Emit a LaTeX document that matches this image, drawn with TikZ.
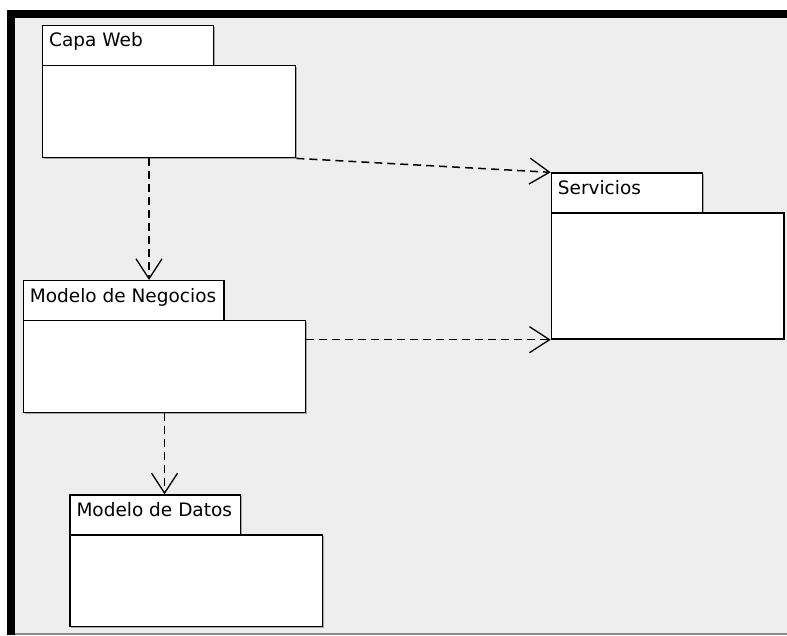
\documentclass[tikz,border=0pt]{standalone}
\usepackage{fontspec}
\setmainfont{DejaVu Sans}
\usetikzlibrary{arrows.meta,shadows}
\definecolor{canvasgray}{HTML}{EEEEEE}
\definecolor{edgegray}{HTML}{8A8A8A}
\begin{document}
\begin{tikzpicture}[x=1pt,y=-1pt,
  pkgpart/.style={rectangle,draw=black,line width=1.4pt,fill=white,inner sep=0pt,anchor=north west,
    drop shadow={shadow xshift=1.4pt,shadow yshift=-1.4pt,fill=black,opacity=0.3}},
  pkgname/.style={anchor=base west,inner sep=0pt,font=\fontsize{18.5}{22}\selectfont},
  dep/.style={line width=1.5pt,dash pattern=on 8pt off 5pt,
    -{Straight Barb[length=20pt,width=26pt,line width=1.3pt]}}]
\useasboundingbox (0,0) rectangle (787,635);
% window frame and canvas
\fill[white] (0,0) rectangle (787,635);
\fill[canvasgray] (15,18) rectangle (787,633);
\fill[edgegray] (15,633) rectangle (787,635);
\fill[black] (7,10) rectangle (787,18);
\fill[black] (7,10) rectangle (15,635);

% Capa Web
\node[pkgpart,minimum width=171pt,minimum height=40pt] (cwTab) at (42,25) {};
\node[pkgpart,minimum width=253pt,minimum height=92pt] (cwBody) at (42,65) {};
\node[pkgname] (cwName) at ([shift={(7pt,-21.7pt)}]cwTab.north west) {Capa Web};

% Servicios
\node[pkgpart,minimum width=151pt,minimum height=40pt] (sTab) at (550.7,172.3) {};
\node[pkgpart,minimum width=232.6pt,minimum height=126pt] (sBody) at (550.7,212.3) {};
\node[pkgname] (sName) at ([shift={(7pt,-22.5pt)}]sTab.north west) {Servicios};

% Modelo de Negocios
\node[pkgpart,minimum width=200.6pt,minimum height=40pt] (nTab) at (22.7,280) {};
\node[pkgpart,minimum width=282.3pt,minimum height=91.7pt] (nBody) at (22.7,320) {};
\node[pkgname] (nName) at ([shift={(7pt,-22pt)}]nTab.north west) {Modelo de Negocios};

% Modelo de Datos
\node[pkgpart,minimum width=170.7pt,minimum height=40pt] (dTab) at (69.3,494.3) {};
\node[pkgpart,minimum width=252.4pt,minimum height=91.7pt] (dBody) at (69.3,534.3) {};
\node[pkgname] (dName) at ([shift={(7pt,-22.4pt)}]dTab.north west) {Modelo de Datos};

% dependencies
\draw[dep] ([xshift=107pt]cwBody.south west) -- ([xshift=107pt]cwBody.south west |- nTab.north);
\draw[dep] (cwBody.south east) -- (sTab.north west);
\draw[dep] (nBody.east |- sBody.south west) -- (sBody.south west);
\draw[dep] (nBody.south) -- (nBody.south |- dTab.north);
\end{tikzpicture}
\end{document}
